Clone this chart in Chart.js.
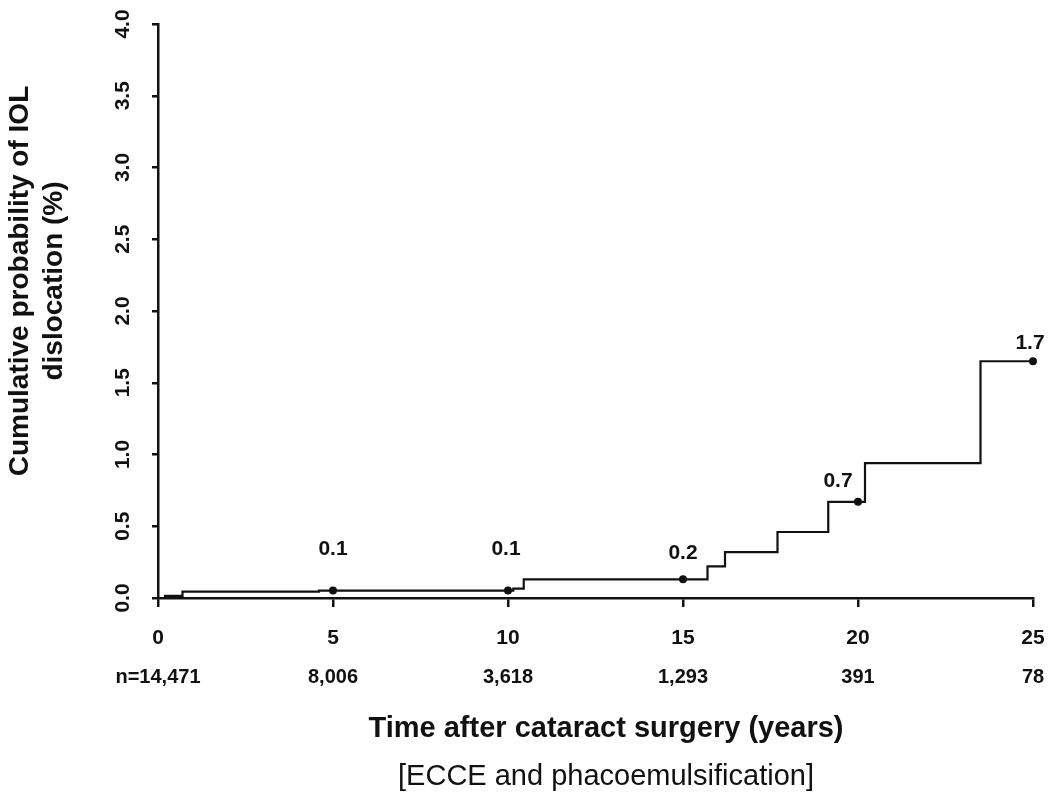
<!DOCTYPE html>
<html lang="en">
<head>
<meta charset="UTF-8">
<title>IOL dislocation</title>
<style>
  html, body { margin: 0; padding: 0; background: #fff; }
  #wrap { width: 1050px; height: 795px; position: relative; }
</style>
</head>
<body>
<div id="wrap"><canvas id="chart"></canvas></div>
<script src="https://cdn.jsdelivr.net/npm/chart.js@4.4.0/dist/chart.umd.min.js"></script>
<script>
// Kaplan-Meier step curve: year of each step and cumulative probability (%) after it
const stepYears = [0, 0.2, 0.7, 4.6, 10.15, 10.45, 15.7, 16.2, 17.7, 19.15, 20.2, 23.5, 25]
const stepProb  = [0, 0.015, 0.045, 0.052, 0.065, 0.13, 0.22, 0.32, 0.46, 0.67, 0.94, 1.65, 1.65]

// marked points with their printed values
const markYears = [5, 10, 15, 20, 25]
const markProb  = [0.052, 0.052, 0.13, 0.67, 1.65]
const markText  = ['0.1', '0.1', '0.2', '0.7', '1.7']

// number at risk under the x axis
const riskYears = [0, 5, 10, 15, 20, 25]
const riskText  = ['n=14,471', '8,006', '3,618', '1,293', '391', '78']

const xTicks = [0, 5, 10, 15, 20, 25]
const yTicks = [0, 0.5, 1, 1.5, 2, 2.5, 3, 3.5, 4]

const yTitle = ['Cumulative probability of IOL', 'dislocation (%)']
const xTitle = 'Time after cataract surgery (years)'
const xSubtitle = '[ECCE and phacoemulsification]'

const INK = '#111'
const FONT = '"Liberation Sans", Arial, Helvetica, sans-serif'

// label lift above each marked point (px) and sideways shift
const labelLift = [41, 41, 26, 21, 18]
const labelShift = [0, -2, 0, -20, -3]

const extras = {
    id: 'extras',
    afterDraw(chart) {
        const ctx = chart.ctx
        const xs = chart.scales.x
        const ys = chart.scales.y
        ctx.save()
        ctx.fillStyle = INK

        // y tick labels, rotated
        ctx.font = 'bold 21px ' + FONT
        ctx.textAlign = 'center'
        ctx.textBaseline = 'alphabetic'
        yTicks.forEach(v => {
            ctx.save()
            ctx.translate(129, ys.getPixelForValue(v))
            ctx.rotate(-Math.PI / 2)
            ctx.fillText(v.toFixed(1), 0, 0)
            ctx.restore()
        })

        // y title, two lines
        ctx.font = 'bold 28px ' + FONT
        ctx.save()
        ctx.translate(0, 281)
        ctx.rotate(-Math.PI / 2)
        ctx.fillText(yTitle[0], 0, 28)
        ctx.fillText(yTitle[1], 0, 62)
        ctx.restore()

        // x tick labels
        ctx.font = 'bold 21px ' + FONT
        ctx.textBaseline = 'middle'
        xTicks.forEach(t => {
            ctx.fillText(String(t), xs.getPixelForValue(t), 638)
        })

        // values over marked points
        markYears.forEach((t, i) => {
            const px = xs.getPixelForValue(t) + labelShift[i]
            const py = ys.getPixelForValue(markProb[i]) - labelLift[i]
            ctx.fillText(markText[i], px, py)
        })

        // numbers at risk
        ctx.font = 'bold 20px ' + FONT
        riskYears.forEach((t, i) => {
            ctx.fillText(riskText[i], xs.getPixelForValue(t), 677)
        })

        // x titles
        ctx.textBaseline = 'alphabetic'
        ctx.font = 'bold 29px ' + FONT
        ctx.fillText(xTitle, 606, 737)
        ctx.font = '29px ' + FONT
        ctx.fillText(xSubtitle, 606, 785)

        ctx.restore()
    }
}

const ctx = document.getElementById('chart').getContext('2d')
new Chart(ctx, {
    type: 'line',
    data: {
        datasets: [{
            label: 'IOL dislocation',
            data: stepYears.map((t, i) => ({ x: t, y: stepProb[i] })),
            stepped: 'before',
            borderColor: INK,
            borderWidth: 2.2,
            pointRadius: 0,
            fill: false,
            clip: false
        }, {
            label: 'marks',
            data: markYears.map((t, i) => ({ x: t, y: markProb[i] })),
            showLine: false,
            pointRadius: 4,
            pointBackgroundColor: INK,
            pointBorderColor: INK,
            pointBorderWidth: 0,
            clip: false
        }]
    },
    options: {
        responsive: true,
        maintainAspectRatio: false,
        animation: false,
        events: [],
        layout: { padding: { left: 152, right: 17, top: 24, bottom: 188 } },
        plugins: { legend: { display: false }, tooltip: { enabled: false } },
        scales: {
            x: {
                type: 'linear',
                min: 0,
                max: 25,
                ticks: { stepSize: 5, display: false },
                grid: { drawOnChartArea: false, drawTicks: true, tickLength: 9, color: INK, lineWidth: 2.5 },
                border: { color: INK, width: 2.5 }
            },
            y: {
                type: 'linear',
                min: 0,
                max: 4,
                ticks: { stepSize: 0.5, display: false },
                grid: { drawOnChartArea: false, drawTicks: true, tickLength: 6, color: INK, lineWidth: 2.5 },
                border: { color: INK, width: 2.5 }
            }
        }
    },
    plugins: [extras]
})
</script>
</body>
</html>
